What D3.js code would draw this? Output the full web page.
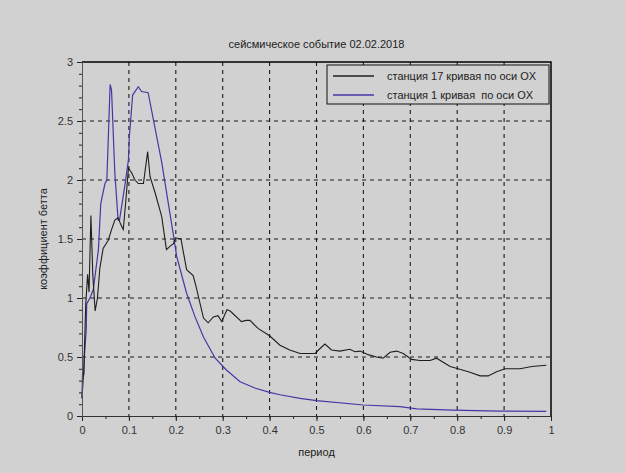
<!DOCTYPE html>
<html><head><meta charset="utf-8">
<script src="https://cdn.jsdelivr.net/npm/d3@7"></script>
<style>
html,body{margin:0;padding:0;background:#d1d1d1;}
svg{display:block;}
text{font-family:"Liberation Sans",Arial,sans-serif;white-space:pre;}
</style></head>
<body>
<svg id="chart" width="625" height="473"></svg>
<script>
const title = "сейсмическое событие 02.02.2018";
const xLabel = "период";
const yLabel = "коэффициент бетта";
const seriesNames = ["станция 17 кривая по оси OX", "станция 1 кривая  по оси OX"];
const xTicks = [0,0.1,0.2,0.3,0.4,0.5,0.6,0.7,0.8,0.9,1];
const yTicks = [0,0.5,1,1.5,2,2.5,3];

// station 17 (black)
const st17x = [0.000,0.004,0.008,0.012,0.015,0.019,0.023,0.028,0.033,0.038,0.045,0.056,0.063,0.070,0.077,0.083,0.088,0.094,0.099,0.106,0.113,0.120,0.131,0.140,0.145,0.156,0.170,0.180,0.188,0.195,0.199,0.211,0.223,0.237,0.243,0.259,0.269,0.280,0.290,0.298,0.309,0.316,0.340,0.350,0.358,0.376,0.400,0.422,0.443,0.465,0.497,0.507,0.518,0.532,0.550,0.571,0.582,0.593,0.610,0.628,0.642,0.657,0.671,0.685,0.703,0.720,0.742,0.756,0.785,0.802,0.827,0.849,0.866,0.884,0.902,0.934,0.959,0.990];
const st17y = [0.15,0.40,0.95,1.20,1.05,1.70,1.20,0.89,1.00,1.25,1.42,1.49,1.58,1.66,1.68,1.62,1.58,1.85,2.10,2.06,2.00,1.97,1.97,2.24,2.03,1.89,1.69,1.41,1.44,1.46,1.51,1.50,1.24,1.19,1.10,0.83,0.79,0.84,0.85,0.80,0.90,0.89,0.80,0.81,0.81,0.74,0.68,0.60,0.56,0.53,0.53,0.57,0.61,0.56,0.55,0.565,0.545,0.55,0.52,0.50,0.49,0.54,0.55,0.53,0.48,0.47,0.47,0.49,0.42,0.40,0.37,0.34,0.34,0.375,0.40,0.40,0.42,0.43];

// station 1 (blue/purple)
const st1x = [0.000,0.001,0.004,0.005,0.009,0.010,0.017,0.024,0.035,0.040,0.049,0.053,0.060,0.063,0.070,0.077,0.080,0.092,0.099,0.101,0.108,0.120,0.127,0.141,0.170,0.195,0.202,0.223,0.241,0.259,0.284,0.308,0.337,0.370,0.400,0.422,0.465,0.500,0.600,0.678,0.714,0.790,0.890,0.990];
const st1y = [0.15,0.35,0.35,0.50,0.73,0.95,1.00,1.07,1.41,1.80,1.97,2.00,2.81,2.76,2.06,1.66,1.66,1.97,2.17,2.37,2.72,2.79,2.75,2.74,2.15,1.53,1.35,1.04,0.84,0.67,0.49,0.39,0.29,0.235,0.20,0.18,0.15,0.13,0.093,0.08,0.06,0.05,0.042,0.04];

const colors = ["#1e1e1e", "#4a35a6"];
const svg = d3.select("#chart");
const L = 82, R = 551, T = 62, B = 416;
const x = d3.scaleLinear().domain([0,1]).range([L,R]);
const y = d3.scaleLinear().domain([0,3]).range([B,T]);
const fs = "11px";

// grid
const grid = svg.append("g").attr("stroke","#1a1a1a").attr("stroke-width",1.1).attr("stroke-dasharray","4,4");
xTicks.filter(v=>v>0&&v<1).forEach(v=>{
  grid.append("line").attr("x1",x(v)).attr("x2",x(v)).attr("y1",T).attr("y2",B);
});
yTicks.filter(v=>v>0&&v<3).forEach(v=>{
  grid.append("line").attr("x1",L).attr("x2",R).attr("y1",y(v)).attr("y2",y(v));
});

// box top/right
svg.append("path").attr("d",`M${L},${T}H${R}V${B}`).attr("fill","none").attr("stroke","#000").attr("stroke-width",1.5);

// curves
const line = d3.line().x(d=>x(d[0])).y(d=>y(d[1]));
svg.append("path").datum(st1x.map((v,i)=>[v,st1y[i]])).attr("d",line).attr("fill","none").attr("stroke",colors[1]).attr("stroke-width",1.2);
svg.append("path").datum(st17x.map((v,i)=>[v,st17y[i]])).attr("d",line).attr("fill","none").attr("stroke",colors[0]).attr("stroke-width",1.1);

// axes
const xMinor = d3.range(0,1.0001,0.05);
const yMinor = d3.range(0,3.0001,0.1);
const xa = svg.append("g").attr("transform",`translate(0,${B})`);
xa.call(d3.axisBottom(x).tickValues(xMinor).tickSize(3).tickFormat(""));
xa.append("g").call(d3.axisBottom(x).tickValues(xTicks).tickSize(5).tickFormat(d3.format("~g")));
xa.selectAll("path.domain").attr("stroke","#333");
xa.selectAll("line").attr("stroke","#222");
xa.selectAll("text").attr("font-size",fs).attr("fill","#333").attr("dy","0.95em");

const ya = svg.append("g").attr("transform",`translate(${L},0)`);
ya.call(d3.axisLeft(y).tickValues(yMinor).tickSize(3).tickFormat(""));
ya.append("g").call(d3.axisLeft(y).tickValues(yTicks).tickSize(5).tickFormat(d3.format("~g")));
ya.selectAll("path.domain").attr("stroke","#555");
ya.selectAll("line").attr("stroke","#222");
ya.selectAll("text").attr("font-size",fs).attr("fill","#333").attr("x",-9);

// title & labels
svg.append("text").attr("x",(L+R)/2).attr("y",48).attr("text-anchor","middle").attr("font-size",fs).attr("fill","#222").text(title);
svg.append("text").attr("x",(L+R)/2).attr("y",456).attr("text-anchor","middle").attr("font-size",fs).attr("fill","#222").text(xLabel);
svg.append("text").attr("transform",`translate(47,${(T+B)/2}) rotate(-90)`).attr("text-anchor","middle").attr("font-size",fs).attr("fill","#222").text(yLabel);

// legend
const lg = svg.append("g");
lg.append("rect").attr("x",327).attr("y",65).attr("width",222).attr("height",39).attr("fill","#d1d1d1").attr("stroke","#111").attr("stroke-width",1);
seriesNames.forEach((n,i)=>{
  const yy = 76 + i*19;
  lg.append("line").attr("x1",333).attr("x2",374).attr("y1",yy).attr("y2",yy).attr("stroke",colors[i]).attr("stroke-width",1.3);
  lg.append("text").attr("x",387).attr("y",yy+4).attr("font-size",fs).attr("fill","#222").attr("xml:space","preserve").text(n);
});
</script>
</body></html>
